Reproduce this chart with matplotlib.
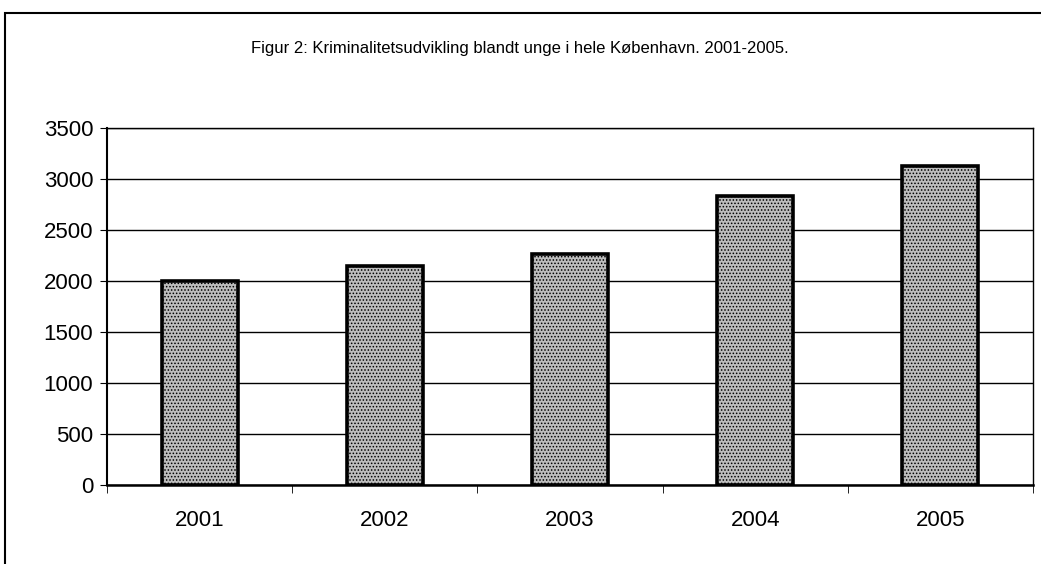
import matplotlib
matplotlib.use("Agg")
import matplotlib.pyplot as plt
from matplotlib import font_manager
from matplotlib.patches import Rectangle

years = ["2001", "2002", "2003", "2004", "2005"]
values = [2000, 2150, 2260, 2830, 3130]
yticks = [0, 500, 1000, 1500, 2000, 2500, 3000, 3500]
title = "Figur 2: Kriminalitetsudvikling blandt unge i hele København. 2001-2005."

plt.rcParams["font.family"] = ["Liberation Sans", "DejaVu Sans"]
plt.rcParams["hatch.linewidth"] = 0.7

# the scanned title is a tall, narrow face
names = {f.name for f in font_manager.fontManager.ttflist}
if "Liberation Sans Narrow" in names:
    title_font, title_size = ["Liberation Sans Narrow", "DejaVu Sans"], 14.5
else:
    title_font, title_size = ["Liberation Sans", "DejaVu Sans"], 12

W, H = 1041, 564
fig = plt.figure(figsize=(W / 100, H / 100), dpi=100)
fig.patch.set_facecolor("white")

# outer chart frame
fig.patches.append(Rectangle((5 / W, -0.05), 1.2, 1 - 13 / H + 0.05,
                             transform=fig.transFigure, fill=False,
                             edgecolor="black", linewidth=1.5))

ax = fig.add_axes([107 / W, 1 - 485 / H, (1033 - 107) / W, (485 - 128) / H])
x = list(range(len(years)))
ax.bar(x, values, width=0.41, color="#bdbdbd", edgecolor="black",
       hatch=".....", linewidth=2.6, zorder=3)

ax.set_xlim(-0.5, len(years) - 0.5)
ax.set_ylim(0, 3500)
ax.set_yticks(yticks)
ax.set_yticklabels([str(v) for v in yticks], fontsize=16)
ax.set_xticks(x)
ax.set_xticklabels(years, fontsize=16)
ax.set_xticks([i + 0.5 for i in range(-1, len(years))], minor=True)
ax.tick_params(axis="x", which="major", length=0, pad=18)
ax.tick_params(axis="x", which="minor", length=6, direction="out")
ax.tick_params(axis="y", length=5, direction="out", pad=5)
ax.yaxis.grid(True, color="black", linewidth=1.0, zorder=0)
ax.set_axisbelow(True)
for s in ax.spines.values():
    s.set_linewidth(1.0)
ax.spines["left"].set_linewidth(1.5)
ax.spines["bottom"].set_linewidth(1.8)

fig.text(520 / W, 1 - 48 / H, title, ha="center", va="center",
         fontsize=title_size, family=title_font)

fig.savefig("out.png", dpi=100)
